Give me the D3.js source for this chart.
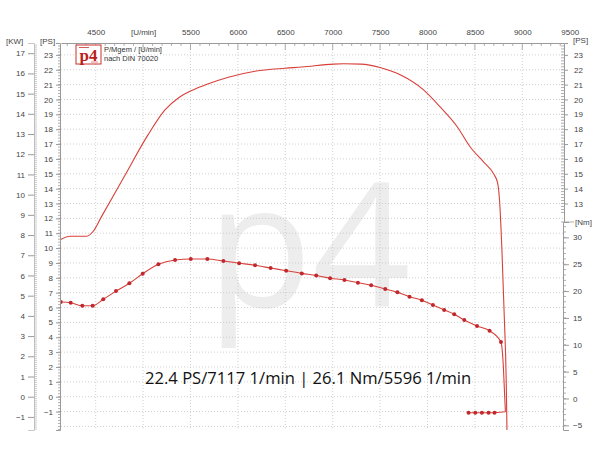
<!DOCTYPE html>
<html><head><meta charset="utf-8">
<script src="https://cdn.jsdelivr.net/npm/d3@7"></script>
<style>html,body{margin:0;padding:0;background:#fff;}svg{display:block;}</style>
</head><body>
<svg id="c" width="600" height="450"></svg>
<script>
// ---- data ----
const rpmTicks = [4500, 5000, 5500, 6000, 6500, 7000, 7500, 8000, 8500, 9000, 9500];
const rpmTickLabels = ["4500", "[U/min]", "5500", "6000", "6500", "7000", "7500", "8000", "8500", "9000", "9500"];
const psTicksLeft = [-1,0,1,2,3,4,5,6,7,8,9,10,11,12,13,14,15,16,17,18,19,20,21,22,23];
const kwTicks = [-1,0,1,2,3,4,5,6,7,8,9,10,11,12,13,14,15,16,17];
const psTicksRight = [13,14,15,16,17,18,19,20,21,22,23];
const nmTicks = [-5,0,5,10,15,20,25,30];

const powerRpm = [4123,4229,4405,4470,4560,4800,5050,5231,5372,5513,5689,5900,6181,6498,6674,7008,7117,7300,7500,7712,7958,8134,8310,8451,8591,8697,8739,8760,8785,8810,8831,8840];
const powerPS  = [10.55,10.8,10.8,11.1,12.1,14.8,17.6,19.3,20.1,20.6,21.06,21.5,21.9,22.1,22.18,22.38,22.4,22.38,22.15,21.66,20.65,19.5,18.2,16.8,15.8,15.0,14.4,13.2,9.9,5.4,0.9,-3.0];

const torqueRpm = [4131,4236,4359,4468,4580,4714,4855,4996,5161,5337,5503,5678,5847,6013,6181,6345,6509,6674,6826,6973,7124,7266,7406,7554,7683,7810,7941,8057,8176,8282,8388,8522,8655,8775];
const torqueNm  = [17.97,17.84,17.28,17.28,18.47,20.0,21.45,23.24,25.0,25.8,25.98,25.98,25.6,25.2,24.8,24.3,23.8,23.3,22.9,22.4,22.07,21.57,21.08,20.4,19.8,18.96,18.3,17.4,16.5,15.7,14.6,13.5,12.6,10.5];
const dropRpm = [8800, 8814, 8822];
const dropNm  = [6.0, 0.5, -2.46];
const tailRpm = [8707, 8644, 8574, 8504, 8433];
const tailNm  = [-2.64, -2.64, -2.64, -2.64, -2.64];

const titleText = "22.4 PS/7117 1/min | 26.1 Nm/5596 1/min";

// ---- layout ----
const L = 61, R = 564, T = 43, B = 430, NM_TOP = 222;
const svg = d3.select("#c");
const x = d3.scaleLinear().domain([4134, 9440]).range([L, R]);
const yPS = d3.scaleLinear().domain([-2.24, 23.8]).range([B, T]);
const kwf = 1.35962;
const yKW = d3.scaleLinear().domain([-2.24/kwf, 23.8/kwf]).range([B, T]);
const yNm = d3.scaleLinear().domain([(398.5-B)/5.37, (398.5-NM_TOP)/5.37]).range([B, NM_TOP]);

const fontAx = "'Liberation Sans', Arial, sans-serif";
const axCol = "#444";
const lineCol = "#9a9a9a";

// watermark
svg.append("text").attr("x", 207).attr("y", 307)
  .attr("font-family", "'Open Sans', 'DejaVu Sans', sans-serif").attr("font-size", 172)
  .attr("fill", "#ededed").text("p4");

// grid
const grid = svg.append("g").attr("stroke", "#c4c4c4").attr("stroke-width", 0.8).attr("stroke-dasharray", "1,2");
d3.range(-2, 24).forEach(v => grid.append("line").attr("x1", L).attr("x2", R).attr("y1", yPS(v)).attr("y2", yPS(v)));
rpmTicks.filter(v => v < 9400).forEach(v => grid.append("line").attr("x1", x(v)).attr("x2", x(v)).attr("y1", T).attr("y2", B));

// top axis
const topAx = svg.append("g").attr("transform", `translate(0,${T})`)
  .call(d3.axisTop(x).tickValues(rpmTicks).tickSize(0).tickFormat((d,i)=>rpmTickLabels[i]).tickPadding(8));
topAx.select(".domain").attr("stroke", lineCol);
topAx.selectAll("text").attr("font-family", fontAx).attr("font-size", 8).attr("fill", axCol);
const tg = svg.append("g").attr("stroke", lineCol).attr("stroke-width", 0.8);
d3.range(4200, 9440, 100).forEach(v => {
  const major = v % 500 === 0;
  tg.append("line").attr("x1", x(v)).attr("x2", x(v)).attr("y1", T).attr("y2", T + (major ? 7 : 3));
});

// left PS axis
const psL = svg.append("g").attr("transform", `translate(${L-1},0)`)
  .call(d3.axisLeft(yPS).tickValues(psTicksLeft).tickSize(4).tickPadding(3));
psL.select(".domain").attr("stroke", lineCol);
psL.selectAll("line").attr("stroke", lineCol);
psL.selectAll("text").attr("font-family", fontAx).attr("font-size", 8).attr("fill", axCol);
d3.range(-2.2, 23.8, 0.2).forEach(v => tg.append("line").attr("x1", L-1).attr("x2", L-3).attr("y1", yPS(v)).attr("y2", yPS(v)));

// left KW axis
const kwA = svg.append("g").attr("transform", `translate(34,0)`)
  .call(d3.axisLeft(yKW).tickValues(kwTicks).tickSize(6).tickPadding(3));
kwA.select(".domain").attr("stroke", "#c8c8c8");
kwA.selectAll("line").attr("stroke", lineCol);
kwA.selectAll("text").attr("font-family", fontAx).attr("font-size", 8).attr("fill", axCol);
const kg = svg.append("g").attr("stroke", "#aaa").attr("stroke-width", 0.6);
d3.range(-1.6, 17.5, 0.1).forEach(v => kg.append("line").attr("x1", 34).attr("x2", 37).attr("y1", yKW(v)).attr("y2", yKW(v)));

svg.append("text").attr("x", 6).attr("y", 44).attr("font-family", fontAx).attr("font-size", 8).attr("fill", axCol).text("[KW]");
svg.append("text").attr("x", 40).attr("y", 44).attr("font-family", fontAx).attr("font-size", 8).attr("fill", axCol).text("[PS]");

// right PS axis (upper)
const yPSr = d3.scaleLinear().domain([yPS.invert(NM_TOP), 23.8]).range([NM_TOP, T]);
const psR = svg.append("g").attr("transform", `translate(${R},0)`)
  .call(d3.axisRight(yPSr).tickValues(psTicksRight).tickSize(4).tickPadding(6));
psR.select(".domain").attr("stroke", lineCol);
psR.selectAll("line").attr("stroke", lineCol);
psR.selectAll("text").attr("font-family", fontAx).attr("font-size", 8).attr("fill", axCol);
d3.range(12.4, 23.8, 0.2).forEach(v => tg.append("line").attr("x1", R).attr("x2", R-3).attr("y1", yPS(v)).attr("y2", yPS(v)));
svg.append("text").attr("x", 573).attr("y", 43).attr("font-family", fontAx).attr("font-size", 8).attr("fill", axCol).text("[PS]");

// right Nm axis (lower)
const nmA = svg.append("g").attr("transform", `translate(${R-1},0)`)
  .call(d3.axisRight(yNm).tickValues(nmTicks).tickSize(6).tickPadding(4));
nmA.select(".domain").attr("stroke", lineCol);
nmA.selectAll("line").attr("stroke", lineCol);
nmA.selectAll("text").attr("font-family", fontAx).attr("font-size", 8).attr("fill", axCol);
d3.range(-5, 33, 1).forEach(v => tg.append("line").attr("x1", R-1).attr("x2", R+2).attr("y1", yNm(v)).attr("y2", yNm(v)));
tg.append("line").attr("x1", R-3).attr("x2", R+10).attr("y1", NM_TOP).attr("y2", NM_TOP);
svg.append("text").attr("x", 575).attr("y", 225).attr("font-family", fontAx).attr("font-size", 8).attr("fill", axCol).text("[Nm]");

// clip
svg.append("clipPath").attr("id", "clip").append("rect").attr("x", L).attr("y", T).attr("width", R-L).attr("height", B-T);
const plot = svg.append("g").attr("clip-path", "url(#clip)");

// power curve
const pData = powerRpm.map((r,i)=>[r, powerPS[i]]);
plot.append("path").datum(pData)
  .attr("d", d3.line().x(d=>x(d[0])).y(d=>yPS(d[1])).curve(d3.curveMonotoneX))
  .attr("fill", "none").attr("stroke", "#d8403a").attr("stroke-width", 1.1);

// torque curve
const tData = torqueRpm.map((r,i)=>[r, torqueNm[i]]).concat(dropRpm.map((r,i)=>[r, dropNm[i]]));
plot.append("path").datum(tData)
  .attr("d", d3.line().x(d=>x(d[0])).y(d=>yNm(d[1])).curve(d3.curveMonotoneX))
  .attr("fill", "none").attr("stroke", "#d8403a").attr("stroke-width", 1.1);
const tailData = [[dropRpm[dropRpm.length-1], dropNm[dropNm.length-1]]].concat(tailRpm.map((r,i)=>[r, tailNm[i]]));
plot.append("path").datum(tailData)
  .attr("d", d3.line().x(d=>x(d[0])).y(d=>yNm(d[1])))
  .attr("fill", "none").attr("stroke", "#d8403a").attr("stroke-width", 1.1);
const dots = torqueRpm.map((r,i)=>[r, torqueNm[i]]).concat(tailRpm.map((r,i)=>[r, tailNm[i]]));
plot.selectAll("circle.d").data(dots).enter().append("circle")
  .attr("cx", d=>x(d[0])).attr("cy", d=>yNm(d[1])).attr("r", 2).attr("fill", "#c0282d");

// logo
const lg = svg.append("g");
lg.append("rect").attr("x", 76).attr("y", 45).attr("width", 25).attr("height", 19).attr("fill", "#fff").attr("stroke", "#c8322e").attr("stroke-width", 1);
lg.append("text").attr("x", 88.5).attr("y", 61).attr("text-anchor", "middle").attr("font-family", "'Liberation Serif', serif").attr("font-weight", "bold").attr("font-size", 17).attr("fill", "#b8221e").text("p4");
lg.append("line").attr("x1", 79).attr("x2", 89).attr("y1", 47.5).attr("y2", 47.5).attr("stroke", "#c8322e").attr("stroke-width", 0.8);
lg.append("line").attr("x1", 91).attr("x2", 98).attr("y1", 62).attr("y2", 62).attr("stroke", "#c8322e").attr("stroke-width", 0.6);
svg.append("text").attr("x", 104).attr("y", 52).attr("font-family", fontAx).attr("font-size", 7.5).attr("fill", "#333").text("P/Mgem / [U/min]");
svg.append("text").attr("x", 104).attr("y", 61).attr("font-family", fontAx).attr("font-size", 7.5).attr("fill", "#333").text("nach DIN 70020");

// title
svg.append("text").attr("x", 145).attr("y", 384).attr("font-family", "'Open Sans', sans-serif").attr("font-size", 16.6).attr("fill", "#111").text(titleText);
</script>
</body></html>
